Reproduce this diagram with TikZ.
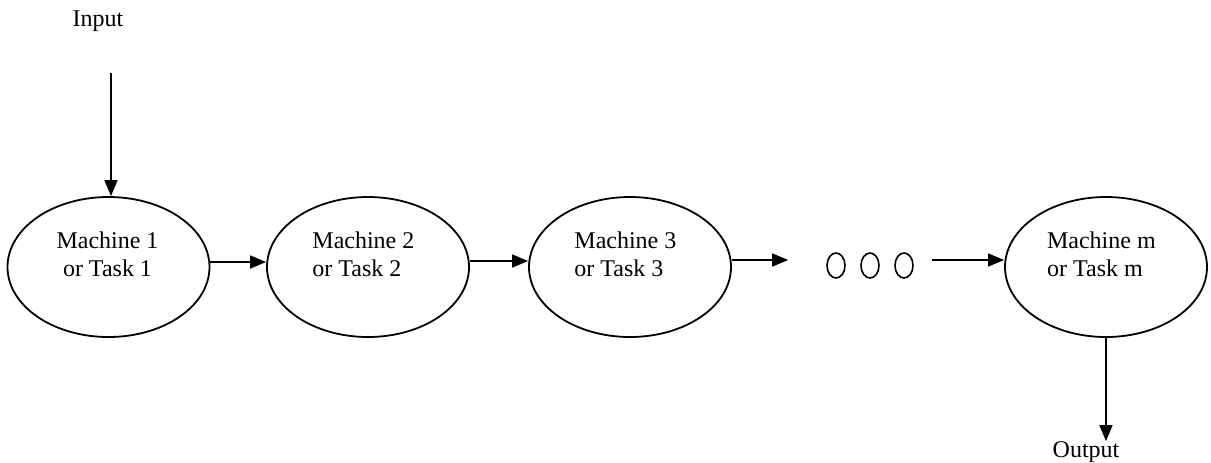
\documentclass[tikz,border=0pt]{standalone}
\usepackage{fontspec}
\setmainfont{Liberation Serif}
\usetikzlibrary{arrows.meta,positioning,calc,shapes.geometric}

\begin{document}
\begin{tikzpicture}[
  x=0.5pt, y=-0.5pt,
  font=\fontsize{12}{14}\selectfont,
  machine/.style={draw, ellipse, line width=0.9pt,
                  minimum width=101pt, minimum height=70pt, inner sep=0pt},
  mlabel/.style={align=left, inner sep=0pt, yshift=6.5pt, xshift=-2.3pt},
  dotnode/.style={draw, ellipse, line width=0.8pt,
                  minimum width=9pt, minimum height=12.5pt, inner sep=0pt},
  txt/.style={inner sep=0pt},
  flow/.style={-{Triangle[length=8pt,width=6.5pt]}, line width=0.8pt},
]
  \useasboundingbox (0,0) rectangle (1211,462);

  %% ── Machines ──
  \node[machine, label={[mlabel, align=center, xshift=1.8pt]center:Machine 1\\or Task 1}] (m1) at (108.5,267) {};
  \node[machine, label={[mlabel]center:Machine 2\\or Task 2}] (m2) at (368,267) {};
  \node[machine, label={[mlabel]center:Machine 3\\or Task 3}] (m3) at (630,267) {};
  \node[machine, label={[mlabel]center:Machine m\\or Task m}] (mm) at (1106,267) {};

  %% ── Dots ──
  \node[dotnode] (d1) at (836,265.5) {};
  \node[dotnode] (d2) at (870,265.5) {};
  \node[dotnode] (d3) at (904,265.5) {};

  %% ── Input / Output ──
  \node[txt] (in) at (98,21) {Input};
  \coordinate (inarr) at (111,73);
  \node[txt] (out) at (1086,452) {Output};

  %% ── Arrows ──
  \draw[flow] (inarr) -- (inarr |- m1.north);
  \draw[flow] ([yshift=2.5pt]m1.east) -- ([yshift=2.5pt]m2.west);
  \draw[flow] ([yshift=3pt]m2.east) -- ([yshift=3pt]m3.west);
  \draw[flow, shorten >=19pt] ([yshift=3.5pt]m3.east) -- ([yshift=3.5pt]m3.east -| d1.west);
  \draw[flow, shorten <=9pt] ([yshift=3.5pt]mm.west -| d3.east) -- ([yshift=3.5pt]mm.west);
  \draw[flow] (mm.south) -- (out.north -| mm.south);

\end{tikzpicture}
\end{document}
